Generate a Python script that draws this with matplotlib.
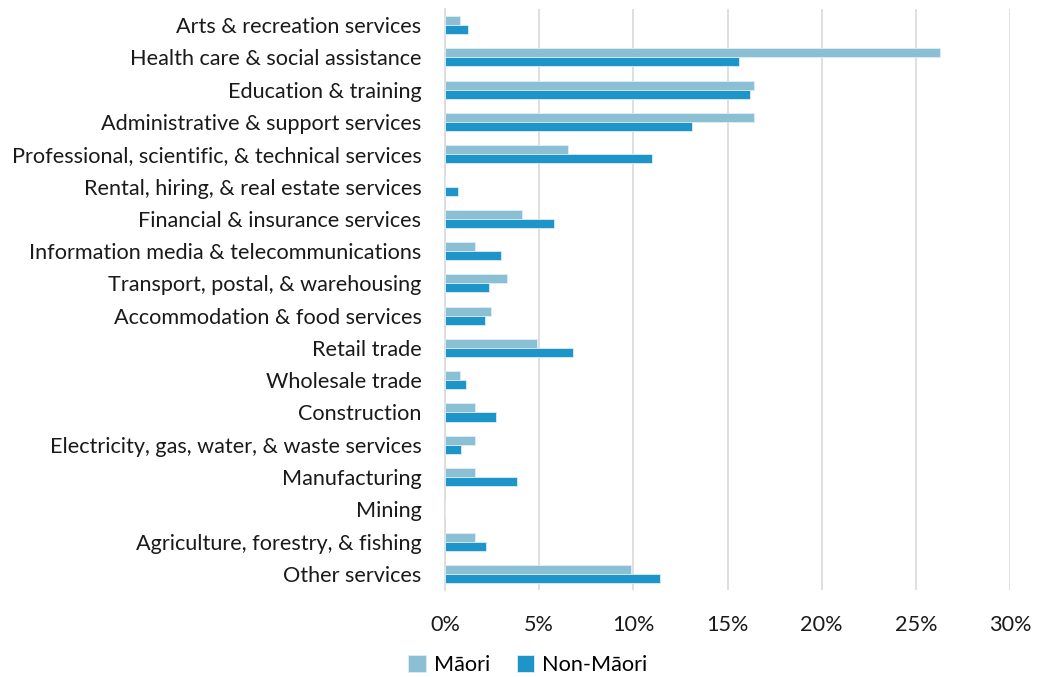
import matplotlib.pyplot as plt
import numpy as np

industries = [
    "Arts & recreation services",
    "Health care & social assistance",
    "Education & training",
    "Administrative & support services",
    "Professional, scientific, & technical services",
    "Rental, hiring, & real estate services",
    "Financial & insurance services",
    "Information media & telecommunications",
    "Transport, postal, & warehousing",
    "Accommodation & food services",
    "Retail trade",
    "Wholesale trade",
    "Construction",
    "Electricity, gas, water, & waste services",
    "Manufacturing",
    "Mining",
    "Agriculture, forestry, & fishing",
    "Other services",
]
maori = [0.8, 26.3, 16.4, 16.4, 6.55, 0.0, 4.1, 1.6, 3.27, 2.44, 4.9, 0.8, 1.6, 1.6, 1.6, 0.0, 1.6, 9.86]
non_maori = [1.2, 15.6, 16.2, 13.1, 11.0, 0.7, 5.8, 2.96, 2.34, 2.1, 6.8, 1.1, 2.7, 0.83, 3.82, 0.0, 2.2, 11.4]

plt.rcParams['font.family'] = ['Lato', 'DejaVu Sans']

fig = plt.figure(figsize=(10.38, 6.77), dpi=100)
ax = fig.add_axes([445 / 1038, 1 - 590 / 677, 565 / 1038, 581 / 677])

y = np.arange(len(industries))
h = 0.28
ax.barh(y - h / 2, maori, height=h, color='#8BBFD3', edgecolor='#DCEEF5', linewidth=0.6, label='Māori', zorder=3)
ax.barh(y + h / 2, non_maori, height=h, color='#1E95C9', edgecolor='#DCEEF5', linewidth=0.6, label='Non-Māori', zorder=3)

ax.set_yticks(y)
ax.set_yticklabels(industries, fontsize=15.6, color='#1a1a1a')
ax.set_ylim(len(industries) - 0.5, -0.5)
ax.set_xlim(0, 30)
ax.set_xticks(range(0, 31, 5))
ax.set_xticklabels([f"{v}%" for v in range(0, 31, 5)], fontsize=15.6, color='#1a1a1a')
ax.tick_params(axis='both', length=0)
ax.tick_params(axis='x', pad=18)
ax.tick_params(axis='y', pad=17)
ax.grid(axis='x', color='#D9D9D9', linewidth=1.2, zorder=0)
for s in ['top', 'right', 'bottom']:
    ax.spines[s].set_visible(False)
ax.spines['left'].set_color('#D9D9D9')
ax.spines['left'].set_linewidth(1.2)

fig.legend(loc='center', bbox_to_anchor=(528 / 1038, 1 - 665 / 677), ncol=2, frameon=False,
           fontsize=15.6, handlelength=0.8, handleheight=0.8, columnspacing=1.2, handletextpad=0.4)

fig.savefig('out.png', dpi=100)
